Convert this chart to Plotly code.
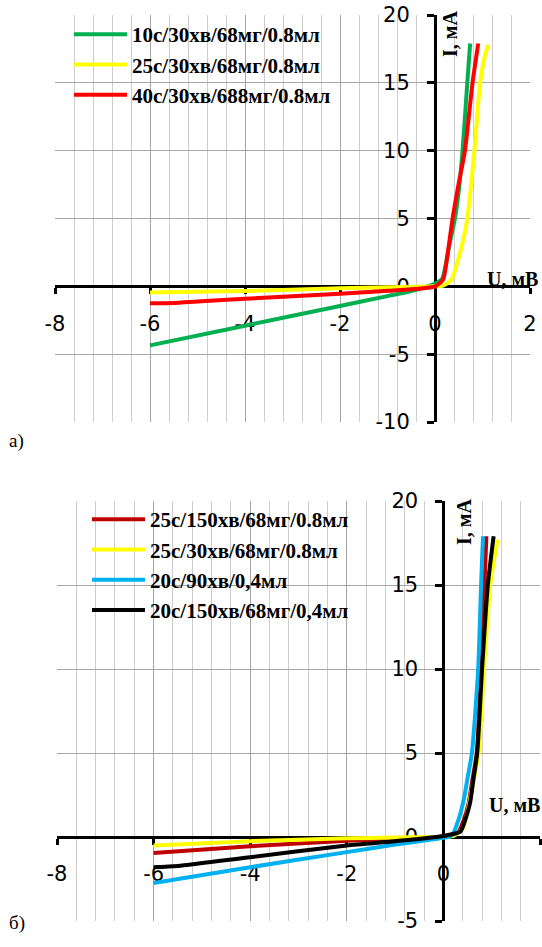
import plotly.graph_objects as go

W, H = 542, 947

# ---------------- data: chart а) ----------------
a_names = ["10с/30хв/68мг/0.8мл", "25с/30хв/68мг/0.8мл", "40с/30хв/688мг/0.8мл"]
a_colors = ["#00B050", "#FFFF00", "#FF0000"]

a_green_u = [-6, -4, -2, -1, -0.5, 0, 0.15, 0.22, 0.3, 0.42, 0.5, 0.58, 0.68, 0.74]
a_green_i = [-4.35, -2.9, -1.45, -0.72, -0.35, 0.2, 0.55, 1.5, 3.0, 5.0, 7.0, 10.0, 15.0, 17.9]

a_yellow_u = [-6, -4, -2, -1, 0, 0.17, 0.35, 0.49, 0.63, 0.68, 0.83, 0.95, 1.05, 1.12]
a_yellow_i = [-0.45, -0.35, -0.15, -0.07, 0.0, 0.05, 0.5, 2.0, 4.0, 5.0, 10.0, 15.0, 17.0, 17.8]

a_red_u = [-6, -5.5, -5, -4, -2, -1, 0, 0.17, 0.25, 0.37, 0.5, 0.63, 0.79, 0.91]
a_red_i = [-1.25, -1.23, -1.12, -0.92, -0.55, -0.33, 0.0, 0.5, 2.0, 5.0, 7.6, 10.0, 15.0, 17.9]

# ---------------- data: chart б) ----------------
b_names = ["25с/150хв/68мг/0.8мл", "25с/30хв/68мг/0.8мл", "20с/90хв/0,4мл", "20с/150хв/68мг/0,4мл"]
b_colors = ["#C00000", "#FFFF00", "#00B0F0", "#000000"]

b_red_u = [-6, -4, -2, -1, 0, 0.3, 0.42, 0.52, 0.6, 0.69, 0.78, 0.85, 0.89]
b_red_i = [-0.95, -0.55, -0.22, -0.1, 0.0, 0.25, 1.0, 2.0, 3.4, 5.0, 10.0, 15.0, 17.9]

b_yellow_u = [-6, -4, -2, -1, 0, 0.2, 0.4, 0.5, 0.6, 0.73, 0.84, 0.97, 1.12]
b_yellow_i = [-0.5, -0.25, -0.08, -0.03, 0.0, 0.05, 0.5, 1.5, 3.0, 5.0, 10.0, 15.0, 17.7]

b_blue_u = [-6, -4, -2, -1, 0, 0.18, 0.32, 0.42, 0.5, 0.59, 0.72, 0.78, 0.82]
b_blue_i = [-2.74, -1.8, -0.9, -0.45, -0.05, 0.1, 1.1, 2.2, 3.5, 5.0, 10.0, 15.0, 17.9]

b_black_u = [-6, -5.5, -4, -2, -1, 0, 0.35, 0.45, 0.55, 0.62, 0.7, 0.8, 0.92, 1.04]
b_black_i = [-1.8, -1.72, -1.2, -0.5, -0.25, 0.06, 0.32, 1.0, 2.0, 3.4, 5.0, 10.0, 15.0, 17.9]

# ---------------- axes: ranges and tick labels ----------------
x_range = [-8, 2]
ya_range = [-10, 20]
yb_range = [-5, 20]

x_tickvals = [-8, -6, -4, -2, 0, 2]
x_ticktext = ["-8", "-6", "-4", "-2", "0", "2"]
ya_tickvals = [-10, -5, 0, 5, 10, 15, 20]
ya_ticktext = ["-10", "-5", "0", "5", "10", "15", "20"]
yb_tickvals = [-5, 0, 5, 10, 15, 20]
yb_ticktext = ["-5", "0", "5", "10", "15", "20"]

# ---------------- layout geometry (pixels) ----------------
A_px = dict(x0=55, x1=530, y0=15, y1=422)
B_px = dict(x0=57, x1=540, y0=501, y1=921)


def dom(p):
    return [p["x0"] / W, p["x1"] / W], [1 - p["y1"] / H, 1 - p["y0"] / H]


xa_dom, ya_dom = dom(A_px)
xb_dom, yb_dom = dom(B_px)


def zero_pos(domain, rng):
    return domain[0] + (domain[1] - domain[0]) * (0 - rng[0]) / (rng[1] - rng[0])


fig = go.Figure()

LW = 4
for name, col, u, i in zip(a_names, a_colors,
                           [a_green_u, a_yellow_u, a_red_u],
                           [a_green_i, a_yellow_i, a_red_i]):
    fig.add_trace(go.Scatter(x=u, y=i, mode="lines", name=name,
                             line=dict(color=col, width=LW, shape="spline", smoothing=0.6),
                             xaxis="x", yaxis="y", legend="legend", legendgroup=name))

for name, col, u, i in zip(b_names, b_colors,
                           [b_red_u, b_yellow_u, b_blue_u, b_black_u],
                           [b_red_i, b_yellow_i, b_blue_i, b_black_i]):
    fig.add_trace(go.Scatter(x=u, y=i, mode="lines", name=name,
                             line=dict(color=col, width=LW, shape="spline", smoothing=0.6),
                             xaxis="x2", yaxis="y2", legend="legend2", legendgroup="b" + name))

tick_font = dict(family="DejaVu Sans", size=21, color="#000000")
MAJ = "#a6a6a6"
MIN = "#cdcdcd"


def xaxis(domain, pos):
    return dict(domain=domain, range=x_range, anchor="free", position=pos,
                tickmode="array", tickvals=x_tickvals, ticktext=x_ticktext,
                showgrid=True, gridcolor=MAJ, gridwidth=1,
                minor=dict(dtick=0.4, tick0=0, showgrid=True, gridcolor=MIN, gridwidth=1, ticks=""),
                showline=True, linecolor="#000000", linewidth=3,
                ticks="outside", ticklen=6, tickwidth=3, tickcolor="#000000",
                zeroline=False, tickfont=tick_font, ticklabelstandoff=11,
                automargin=False, layer="below traces", fixedrange=True)


def yaxis(domain, rng, pos, tv, tt):
    return dict(domain=domain, range=rng, anchor="free", position=pos,
                tickmode="array", tickvals=tv, ticktext=tt,
                showgrid=True, gridcolor=MAJ, gridwidth=1,
                showline=True, linecolor="#000000", linewidth=3,
                ticks="outside", ticklen=7, tickwidth=3, tickcolor="#000000",
                zeroline=False, tickfont=tick_font, ticklabelstandoff=13,
                automargin=False, layer="below traces", fixedrange=True)


xa = xaxis(xa_dom, zero_pos(ya_dom, ya_range))
xb = xaxis(xb_dom, zero_pos(yb_dom, yb_range))
ya = yaxis(ya_dom, ya_range, zero_pos(xa_dom, x_range), ya_tickvals, ya_ticktext)
yb = yaxis(yb_dom, yb_range, zero_pos(xb_dom, x_range), yb_tickvals, yb_ticktext)

legend_font = dict(family="Liberation Serif", size=21, color="#000000", weight="bold")

fig.update_layout(
    width=W, height=H,
    margin=dict(l=0, r=0, t=0, b=0, autoexpand=False),
    paper_bgcolor="#ffffff", plot_bgcolor="#ffffff",
    showlegend=True,
    xaxis=xa, yaxis=ya, xaxis2=xb, yaxis2=yb,
    legend=dict(x=69 / W, y=1 - 14 / H, xanchor="left", yanchor="top",
                bgcolor="rgba(0,0,0,0)", borderwidth=0, font=legend_font,
                itemwidth=53, tracegroupgap=9, traceorder="normal"),
    legend2=dict(x=87 / W, y=1 - 499 / H, xanchor="left", yanchor="top",
                 bgcolor="rgba(0,0,0,0)", borderwidth=0, font=legend_font,
                 itemwidth=53, tracegroupgap=0, traceorder="normal"),
)

title_font = dict(family="Liberation Serif", size=20, color="#000000", weight="bold")
ann = [
    dict(text="I, мА", x=450 / W, y=1 - 9 / H, textangle=-90, xanchor="center", yanchor="top",
         font=title_font),
    dict(text="U, мВ", x=485 / W, y=1 - 266 / H, xanchor="left", font=title_font),
    dict(text="I, мА", x=464 / W, y=1 - 497 / H, textangle=-90, xanchor="center", yanchor="top",
         font=title_font),
    dict(text="U, мВ", x=487 / W, y=1 - 818 / H, xanchor="left", font=title_font),
    dict(text="а)", x=7 / W, y=1 - 441 / H, xanchor="left",
         font=dict(family="Liberation Serif", size=19, color="#000000")),
    dict(text="б)", x=7 / W, y=1 - 936 / H, xanchor="left",
         font=dict(family="Liberation Serif", size=19, color="#000000")),
]
for a in ann:
    a.update(xref="paper", yref="paper", showarrow=False)
fig.update_layout(annotations=ann)

fig.write_html("out.html", config={"displayModeBar": False},
               post_script="document.body.style.margin='0';document.body.style.overflow='hidden';")
